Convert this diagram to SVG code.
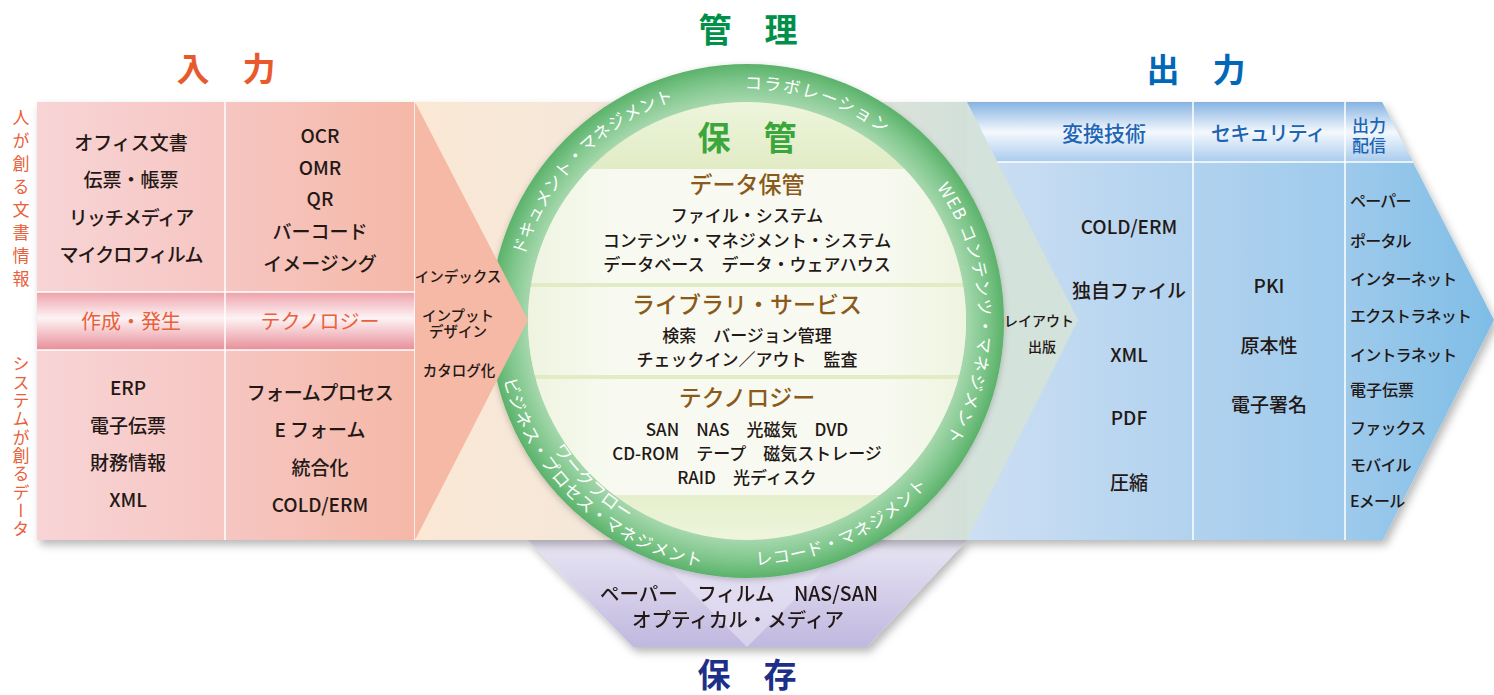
<svg xmlns="http://www.w3.org/2000/svg" width="1494" height="695" viewBox="0 0 1494 695">
<style>
text{font-family:'Noto Sans CJK JP','Noto Sans CJK SC',sans-serif;}
.c{text-anchor:middle;}
.dk{fill:#231815;font-weight:500;}
.b19{font-size:19px;}
.b17{font-size:17px;}
.or{fill:#e9603a;}
.br{fill:#8b5a1b;font-size:23px;text-anchor:middle;font-weight:500;}
.bl{fill:#1c64b4;font-weight:500;}
.ttl{font-size:33px;font-weight:bold;text-anchor:middle;}
.ring{fill:#ffffff;font-size:17px;}
.wl{stroke:#ffffff;stroke-width:1.5;fill:none;}
</style>
<defs>
<linearGradient id="gLeft" x1="0" y1="0" x2="1" y2="0"><stop offset="0" stop-color="#f8d4d6"/><stop offset="0.5" stop-color="#f6c6c2"/><stop offset="1" stop-color="#f5b8a7"/></linearGradient>
<linearGradient id="gPinkHead" x1="0" y1="0" x2="0" y2="1"><stop offset="0" stop-color="#eea1aa"/><stop offset="0.45" stop-color="#fdf3f4"/><stop offset="1" stop-color="#e88e99"/></linearGradient>
<linearGradient id="gMid" x1="0" y1="0" x2="1" y2="0"><stop offset="0" stop-color="#fbe8d5"/><stop offset="0.5" stop-color="#f1e7dc"/><stop offset="1" stop-color="#d2e0d9"/></linearGradient>
<linearGradient id="gBlueHead" x1="0" y1="0" x2="0" y2="1"><stop offset="0" stop-color="#86b3e2"/><stop offset="0.5" stop-color="#f4f8fd"/><stop offset="1" stop-color="#a9cbee"/></linearGradient>
<linearGradient id="gBlueBody" gradientUnits="userSpaceOnUse" x1="967" y1="0" x2="1494" y2="0"><stop offset="0" stop-color="#cddff3"/><stop offset="0.4" stop-color="#b3d3ef"/><stop offset="0.7" stop-color="#a0cbec"/><stop offset="1" stop-color="#7fbde6"/></linearGradient>
<linearGradient id="gLav" x1="0" y1="0" x2="0" y2="1"><stop offset="0" stop-color="#e9e6f4"/><stop offset="1" stop-color="#c0b8df"/></linearGradient>
<radialGradient id="gRing" gradientUnits="userSpaceOnUse" cx="747" cy="321" r="257"><stop offset="0.84" stop-color="#acdab2"/><stop offset="0.93" stop-color="#80c78d"/><stop offset="1" stop-color="#5bb26a"/></radialGradient>
<linearGradient id="gBand" x1="0" y1="0" x2="1" y2="0"><stop offset="0" stop-color="#eef4e0"/><stop offset="0.2" stop-color="#f8faf1"/><stop offset="0.8" stop-color="#f8faf1"/><stop offset="1" stop-color="#eef4e0"/></linearGradient>
<linearGradient id="gCap" x1="0" y1="0" x2="0" y2="1"><stop offset="0" stop-color="#eef5dc"/><stop offset="0.15" stop-color="#e1ecc5"/><stop offset="0.85" stop-color="#e1ecc5"/><stop offset="1" stop-color="#eef5dc"/></linearGradient>
<clipPath id="clipInner"><circle cx="747" cy="321" r="219"/></clipPath>
<filter id="shadow" x="-5%" y="-10%" width="110%" height="125%"><feDropShadow dx="3" dy="5" stdDeviation="4" flood-color="#000" flood-opacity="0.28"/></filter>
<filter id="shadowC" x="-10%" y="-10%" width="120%" height="120%"><feDropShadow dx="0" dy="2" stdDeviation="3" flood-color="#000" flood-opacity="0.22"/></filter>
<path id="pDoc" d="M 524.0 384.9 A 232 232 0 0 1 803.1 95.9"/>
<path id="pCol" d="M 591.8 148.6 A 232 232 0 0 1 973.9 272.8"/>
<path id="pWeb" d="M 855.9 116.2 A 232 232 0 0 1 869.9 517.7"/>
<path id="pBiz" d="M 503.8 263.1 A 250 250 0 0 0 818.4 560.6"/>
<path id="pWf" d="M 521.6 266.1 A 232 232 0 0 0 812.1 543.7"/>
<path id="pRec" d="M 607.1 520.9 A 244 244 0 0 0 990.1 342.3"/>
</defs>
<rect width="1494" height="695" fill="#ffffff"/>

<!-- titles -->
<g id="titles">
<text class="ttl" x="226" y="81" fill="#e85a2c">入　力</text>
<text class="ttl" x="748" y="42" fill="#00904a">管　理</text>
<text class="ttl" x="1196" y="82" fill="#0068b7">出　力</text>
<text class="ttl" x="747" y="687" fill="#1d2f87">保　存</text>
</g>

<!-- storage hexagon -->
<g id="storage" filter="url(#shadow)">
<polygon points="528,540 967,540 867,647 633,647" fill="url(#gLav)"/>
<polygon points="640,540 747,647 854,540" fill="#ebe8f5" opacity="0.55"/>
<text class="c dk" x="739" y="601" font-size="19.5">ペーパー　フィルム　NAS/SAN</text>
<text class="c dk" x="738" y="626.5" font-size="19.5">オプティカル・メディア</text>
</g>

<!-- main band -->
<g id="band" filter="url(#shadow)">
<rect x="415" y="102" width="552" height="438" fill="url(#gMid)"/>
<rect x="37" y="102" width="378" height="438" fill="url(#gLeft)"/>
<rect x="37" y="292" width="378" height="58" fill="url(#gPinkHead)"/>
<rect x="967" y="162" width="378" height="378" fill="url(#gBlueBody)"/>
<polygon points="1345,102 1382,102 1494,320 1383,540 1345,540" fill="url(#gBlueBody)"/>
<rect x="967" y="102" width="378" height="60" fill="url(#gBlueHead)"/>
<polygon points="1345,102 1382,102 1413,162 1345,162" fill="url(#gBlueHead)"/>
</g>

<g id="dividers">
<line class="wl" x1="225" y1="102" x2="225" y2="540"/>
<line class="wl" x1="415" y1="102" x2="415" y2="540"/>
<line class="wl" x1="37" y1="292" x2="415" y2="292"/>
<line class="wl" x1="37" y1="350" x2="415" y2="350"/>
<line class="wl" x1="1193" y1="102" x2="1193" y2="540"/>
<line class="wl" x1="1345" y1="102" x2="1345" y2="540"/>
<line class="wl" x1="967" y1="162" x2="1413" y2="162"/>
</g>

<!-- output chevron -->
<g id="output-arrow">
<polygon points="967,102 1078,320 967,540" fill="#d3e2da"/>
</g>

<!-- circle -->
<g id="storage-circle">
<circle cx="747" cy="321" r="257" fill="url(#gRing)" filter="url(#shadowC)"/>
<g clip-path="url(#clipInner)">
<rect x="528" y="102" width="438" height="438" fill="url(#gCap)"/>
<rect x="528" y="169" width="438" height="114" fill="url(#gBand)"/>
<rect x="528" y="287" width="438" height="88" fill="url(#gBand)"/>
<rect x="528" y="379" width="438" height="116" fill="url(#gBand)"/>
</g>
<text class="ttl" x="747" y="149.5" fill="#3aa63c">保　管</text>
<text class="br" x="747" y="193">データ保管</text>
<text class="c dk b17" x="747" y="221.5">ファイル・システム</text>
<text class="c dk b17" x="747" y="246.5">コンテンツ・マネジメント・システム</text>
<text class="c dk b17" x="747" y="270.5">データベース　データ・ウェアハウス</text>
<text class="br" x="747" y="313">ライブラリ・サービス</text>
<text class="c dk b17" x="747" y="341.5">検索　バージョン管理</text>
<text class="c dk b17" x="747" y="366">チェックイン／アウト　監査</text>
<text class="br" x="747" y="406">テクノロジー</text>
<text class="c dk b17" x="747" y="436">SAN　NAS　光磁気　DVD</text>
<text class="c dk b17" x="747" y="460">CD-ROM　テープ　磁気ストレージ</text>
<text class="c dk b17" x="747" y="483.5">RAID　光ディスク</text>
</g>

<g id="ring-labels">
<text class="ring" letter-spacing="0.3"><textPath href="#pDoc" startOffset="50%" text-anchor="middle">ドキュメント・マネジメント</textPath></text>
<text class="ring" letter-spacing="1.8"><textPath href="#pCol" startOffset="50%" text-anchor="middle">コラボレーション</textPath></text>
<text class="ring" letter-spacing="1.5"><textPath href="#pWeb" startOffset="50%" text-anchor="middle">WEB コンテンツ・マネジメント</textPath></text>
<text class="ring" letter-spacing="1"><textPath href="#pBiz" startOffset="50%" text-anchor="middle">ビジネス・プロセス・マネジメント</textPath></text>
<text class="ring" letter-spacing="0.3"><textPath href="#pWf" startOffset="50%" text-anchor="middle">ワークフロー</textPath></text>
<text class="ring" letter-spacing="0.7"><textPath href="#pRec" startOffset="50%" text-anchor="middle">レコード・マネジメント</textPath></text>
</g>

<!-- input chevron (drawn over the ring) -->
<g id="input-arrow">
<polygon points="415,102 528,320 415,540" fill="#f5b9a6"/>
</g>

<!-- left labels -->
<g id="left-labels">
<text class="or" x="21" y="109" font-size="17" style="writing-mode:vertical-rl;letter-spacing:6px">人が創る文書情報</text>
<text class="or" x="21" y="355.5" font-size="17" style="writing-mode:vertical-rl;letter-spacing:1.3px">システムが創るデータ</text>
</g>

<g id="input-docs">
<text class="c dk b19" x="131" y="150">オフィス文書</text>
<text class="c dk b19" x="131" y="186.5">伝票・帳票</text>
<text class="c dk b19" x="131" y="225" letter-spacing="-1">リッチメディア</text>
<text class="c dk b19" x="131" y="261.5" letter-spacing="-1">マイクロフィルム</text>
</g>
<g id="input-tech-top">
<text class="c dk b19" x="320" y="143">OCR</text>
<text class="c dk b19" x="320" y="175">OMR</text>
<text class="c dk b19" x="320" y="206">QR</text>
<text class="c dk b19" x="320" y="238.5">バーコード</text>
<text class="c dk b19" x="320" y="271">イメージング</text>
</g>
<g id="input-headers">
<text class="c or" x="131" y="328.5" font-size="20">作成・発生</text>
<text class="c or" x="320" y="328.5" font-size="20">テクノロジー</text>
</g>
<g id="input-system">
<text class="c dk b19" x="128" y="395">ERP</text>
<text class="c dk b19" x="128" y="433">電子伝票</text>
<text class="c dk b19" x="128" y="470">財務情報</text>
<text class="c dk b19" x="128" y="507">XML</text>
</g>
<g id="input-tech-bottom">
<text class="c dk b19" x="320" y="400" letter-spacing="-0.5">フォームプロセス</text>
<text class="c dk b19" x="320" y="436.5">E フォーム</text>
<text class="c dk b19" x="320" y="475">統合化</text>
<text class="c dk b19" x="320" y="512">COLD/ERM</text>
</g>

<g id="input-process">
<text class="c dk" x="458" y="282" font-size="14.5">インデックス</text>
<text class="c dk" x="458" y="320.5" font-size="14.5">インプット</text>
<text class="c dk" x="458" y="336.5" font-size="14.5">デザイン</text>
<text class="c dk" x="459" y="375.5" font-size="14.5">カタログ化</text>
</g>

<g id="output-process">
<text class="c dk" x="1039" y="325.5" font-size="14">レイアウト</text>
<text class="c dk" x="1042" y="351.5" font-size="14">出版</text>
</g>

<g id="output-headers">
<text class="c bl" x="1104" y="140.5" font-size="21">変換技術</text>
<text class="c bl" x="1268" y="140.5" font-size="20" letter-spacing="-0.8">セキュリティ</text>
<text class="bl" x="1352" y="131.5" font-size="17">出力</text>
<text class="bl" x="1352" y="151.5" font-size="17">配信</text>
</g>
<g id="output-convert">
<text class="c dk b19" x="1129" y="234">COLD/ERM</text>
<text class="c dk b19" x="1129" y="298">独自ファイル</text>
<text class="c dk b19" x="1129" y="362">XML</text>
<text class="c dk b19" x="1129" y="425">PDF</text>
<text class="c dk b19" x="1129" y="490">圧縮</text>
</g>
<g id="output-security">
<text class="c dk b19" x="1269" y="293">PKI</text>
<text class="c dk b19" x="1269" y="353">原本性</text>
<text class="c dk b19" x="1269" y="411.5">電子署名</text>
</g>
<g id="output-delivery">
<text class="dk" x="1350" y="206.5" font-size="16" letter-spacing="-0.8">ペーパー</text>
<text class="dk" x="1350" y="246.5" font-size="16" letter-spacing="-0.8">ポータル</text>
<text class="dk" x="1350" y="285" font-size="16" letter-spacing="-0.8">インターネット</text>
<text class="dk" x="1350" y="321.5" font-size="16" letter-spacing="-0.8">エクストラネット</text>
<text class="dk" x="1350" y="360.5" font-size="16" letter-spacing="-0.8">イントラネット</text>
<text class="dk" x="1350" y="395.5" font-size="16">電子伝票</text>
<text class="dk" x="1350" y="433.5" font-size="16" letter-spacing="-0.8">ファックス</text>
<text class="dk" x="1350" y="470.5" font-size="16" letter-spacing="-0.8">モバイル</text>
<text class="dk" x="1350" y="506.5" font-size="16" letter-spacing="-0.8">Eメール</text>
</g>
</svg>
